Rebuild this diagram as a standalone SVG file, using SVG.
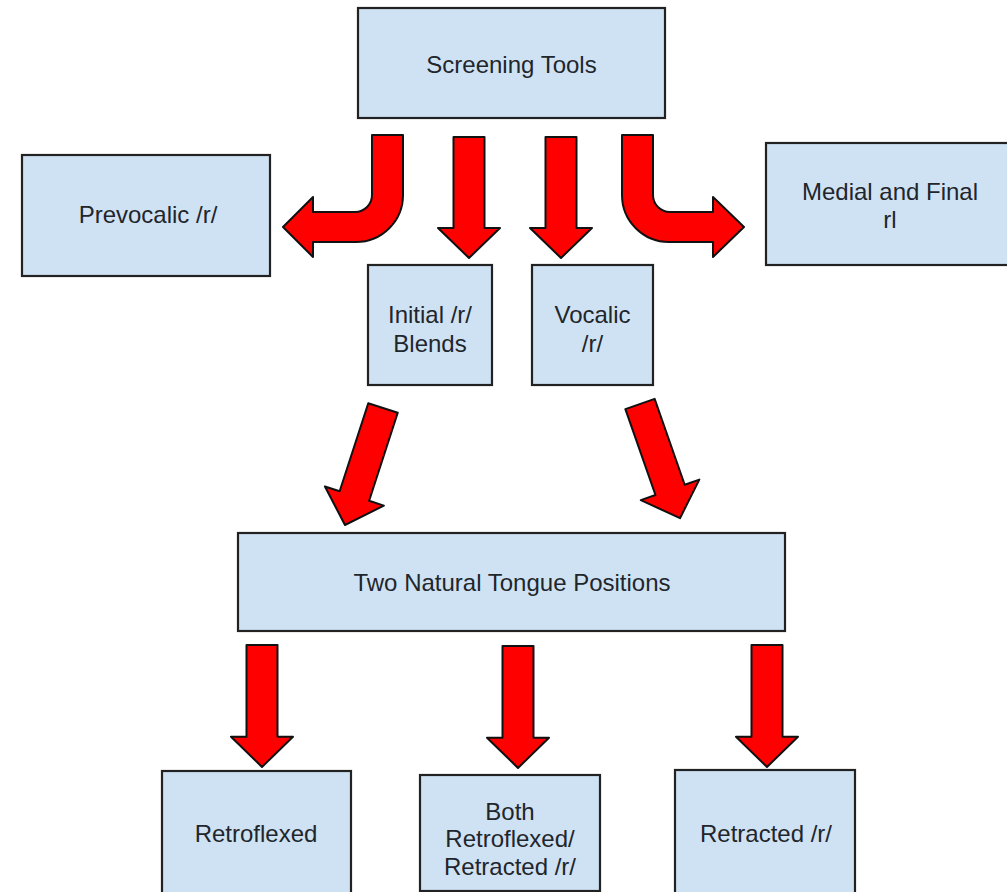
<svg xmlns="http://www.w3.org/2000/svg" width="1007" height="892" viewBox="0 0 1007 892">
<style>
.box{fill:#cfe2f3;stroke:#222;stroke-width:2.2}
.lbl{font-family:"Liberation Sans",Arial,sans-serif;font-size:24px;fill:#1f262c;text-anchor:middle}
.arr{fill:#ff0000;stroke:#111;stroke-width:2;stroke-linejoin:round}
</style>
<defs>
<path id="down121" d="M-15.5,0 L15.5,0 L15.5,91 L31,91 L0,121 L-31,91 L-15.5,91 Z"/>
</defs>
<rect width="1007" height="892" fill="#ffffff"/>
<g id="connectors">
<path class="arr" d="M372,135 L403,135 L403,195 A47 47 0 0 1 356 242 L313,242 L313,257 L283,227 L313,197 L313,212 L355,212 A17 17 0 0 0 372 195 Z"/>
<path class="arr" d="M622,135 L653,135 L653,195 A17 17 0 0 0 670 212 L713,212 L713,197 L744,227 L713,257 L713,242 L669,242 A47 47 0 0 1 622 195 Z"/>
<use href="#down121" class="arr" transform="translate(469,137)"/>
<use href="#down121" class="arr" transform="translate(561,137)"/>
<use href="#down121" class="arr" transform="translate(383,408) rotate(18) scale(1,1.017)"/>
<use href="#down121" class="arr" transform="translate(640,404) rotate(-19.3)"/>
<use href="#down121" class="arr" transform="translate(262,645) scale(1,1.008)"/>
<use href="#down121" class="arr" transform="translate(518,646) scale(1,1.008)"/>
<use href="#down121" class="arr" transform="translate(767,645) scale(1,1.008)"/>
</g>
<g id="screening">
<rect class="box" x="358" y="8" width="307" height="110"/>
<text class="lbl" x="511.5" y="73">Screening Tools</text>
</g>
<g id="prevocalic">
<rect class="box" x="22" y="155" width="248" height="121"/>
<text class="lbl" x="148" y="223">Prevocalic /r/</text>
</g>
<g id="medial">
<rect class="box" x="766" y="143" width="245" height="122"/>
<text class="lbl" x="890" y="200">Medial and Final</text>
<text class="lbl" x="890" y="228">rl</text>
</g>
<g id="initial">
<rect class="box" x="368" y="265" width="124" height="120"/>
<text class="lbl" x="430" y="323">Initial /r/</text>
<text class="lbl" x="430" y="352">Blends</text>
</g>
<g id="vocalic">
<rect class="box" x="532" y="265" width="121" height="120"/>
<text class="lbl" x="592.5" y="323">Vocalic</text>
<text class="lbl" x="592.5" y="352">/r/</text>
</g>
<g id="twonatural">
<rect class="box" x="238" y="533" width="547" height="98"/>
<text class="lbl" x="512" y="591">Two Natural Tongue Positions</text>
</g>
<g id="retroflexed">
<rect class="box" x="162" y="771" width="189" height="130"/>
<text class="lbl" x="256" y="842">Retroflexed</text>
</g>
<g id="both">
<rect class="box" x="420" y="775" width="180" height="116"/>
<text class="lbl" x="510" y="820">Both</text>
<text class="lbl" x="510" y="847">Retroflexed/</text>
<text class="lbl" x="510" y="875">Retracted /r/</text>
</g>
<g id="retracted">
<rect class="box" x="675" y="770" width="180" height="131"/>
<text class="lbl" x="766" y="842">Retracted /r/</text>
</g>
</svg>
